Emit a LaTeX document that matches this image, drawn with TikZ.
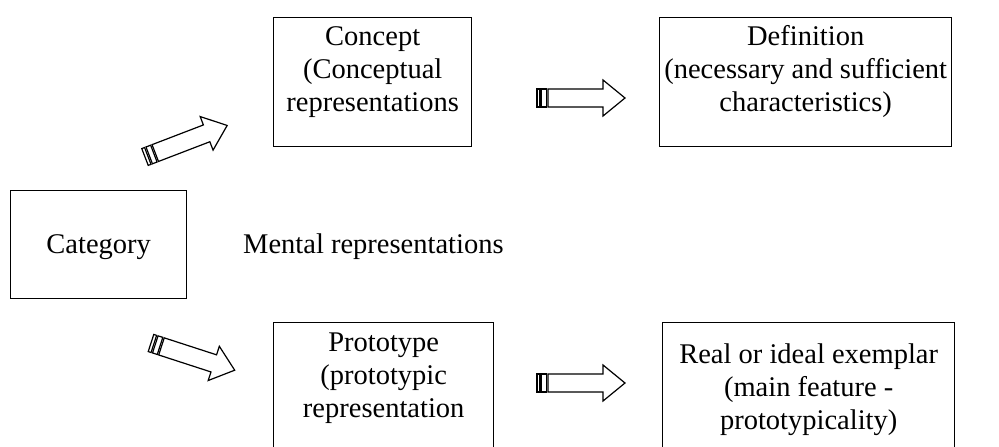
\documentclass[tikz,border=0pt]{standalone}
\usepackage{fontspec}
\setmainfont{Liberation Serif}
\begin{document}
\begin{tikzpicture}[x=1pt,y=1pt,
  box/.style={draw=black, line width=1.4pt, inner sep=0pt, anchor=north west},
  txt/.style={align=center, inner sep=0pt, anchor=base, font=\fontsize{28.5}{33}\selectfont},
  arrowline/.style={draw=black, line width=1.2pt, fill=white, line join=miter},
  striparrow/.pic={
    \draw[arrowline] (0,-9) rectangle (3,9);
    \draw[arrowline] (4.5,-9) rectangle (9.5,9);
    \draw[arrowline] (11,-9) -- (66,-9) -- (66,-18) -- (88,0) -- (66,18) -- (66,9) -- (11,9) -- cycle;
  }]
\useasboundingbox (0,0) rectangle (999,-447);
% boxes
\node[box, minimum width=176pt, minimum height=108pt] (category) at (10,-190) {};
\node[box, minimum width=198pt, minimum height=129pt] (concept) at (273,-17) {};
\node[box, minimum width=292pt, minimum height=129pt] (definition) at (659,-17) {};
\node[box, minimum width=220pt, minimum height=140pt] (prototype) at (273,-322) {};
\node[box, minimum width=292pt, minimum height=140pt] (exemplar) at (662,-322) {};
% texts (base anchor = baseline of last line)
\node[txt] (categorytxt) at ([yshift=-9pt]category.center) {Category};
\node[txt, anchor=base west] (mental) at (243,-253) {Mental representations};
\node[txt] (concepttxt) at (concept.center |- 0,-111) {Concept\\(Conceptual\\representations};
\node[txt] (definitiontxt) at (definition.center |- 0,-111) {Definition\\(necessary and sufficient\\characteristics)};
\node[txt] (prototypetxt) at (prototype.center |- 0,-417) {Prototype\\(prototypic\\representation};
\node[txt] (exemplartxt) at (exemplar.center |- 0,-429) {Real or ideal exemplar\\(main feature -\\prototypicality)};
% arrows
\coordinate (a1) at (145,-157);
\coordinate (a2) at (151,-343);
\coordinate (a3) at (537,-98);
\coordinate (a4) at (537,-383);
\pic[rotate=21] at (a1) {striparrow};
\pic[rotate=-18] at (a2) {striparrow};
\pic at (a3) {striparrow};
\pic at (a4) {striparrow};
\end{tikzpicture}
\end{document}
